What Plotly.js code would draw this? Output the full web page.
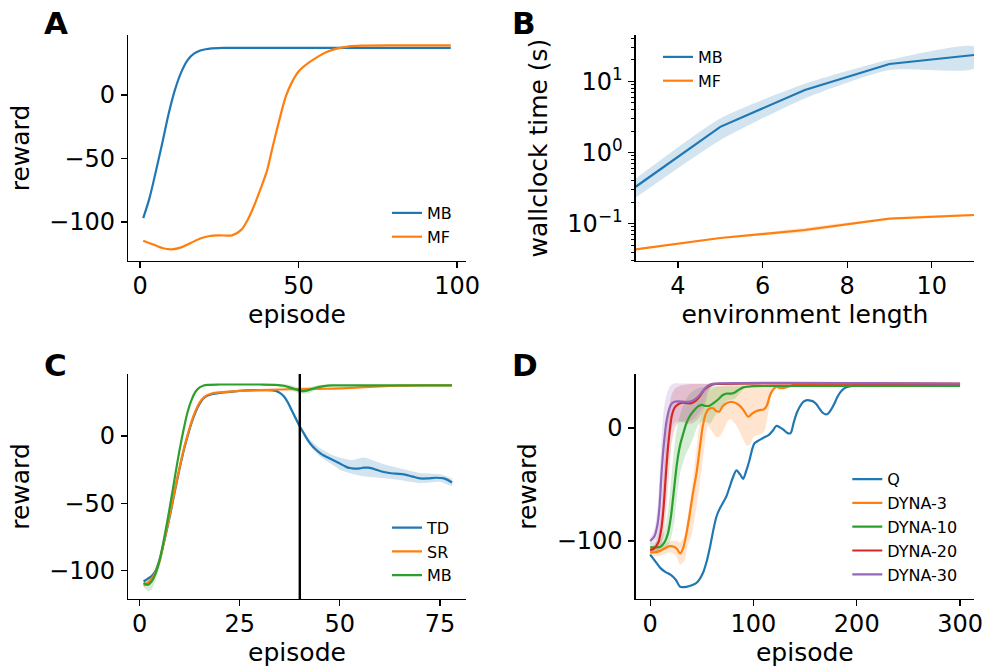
<!DOCTYPE html>
<html><head><meta charset="utf-8">
<script src="https://cdn.plot.ly/plotly-3.0.1.min.js"></script>
<style>html,body{margin:0;padding:0;background:#fff}#chart{width:987px;height:668px}</style>
</head><body><div id="chart"></div>
<script>
// ---------- Panel A ----------
const aMbEp = [1,3,5,7,9,11,13,15,17,19,22,26,40,60,80,98];
const aMbReward = [-97,-81,-60,-38,-15,4,18,27.5,32.5,35,36.5,37,37,37,37,37];
const aMfEp = [1,4,7,10,13,16,19,22,25,29,32,34,36,38,40,42,44,46,48,50,53,56,59,62,66,70,80,98];
const aMfReward = [-114.7,-117.5,-120.5,-121.5,-120,-116.5,-113,-111,-110.5,-110.5,-106,-98,-87,-74,-60,-39,-19,-1,10.5,18.5,25,30,34,36.5,38.3,38.8,39,39];

// ---------- Panel B ----------
const bLength = [3,5,7,9,11];
const bMbTime = [0.33,2.29,7.55,17.5,23.4];
const bMbLo = [0.233,1.49,5.75,14.4,15.1];
const bMbHi = [0.43,3.0,9.2,20,30.6];
const bMfTime = [0.0437,0.063,0.0816,0.1175,0.1324];
const bMfLo = [0.0425,0.0615,0.0765,0.1150,0.1300];
const bMfHi = [0.0450,0.0645,0.0880,0.1200,0.1350];
const bTickVals = [0.1,1,10];
const bTickText = ['10<sup>\u22121</sup>','10<sup>0</sup>','10<sup>1</sup>'];
const bMinorVals = [0.03,0.04,0.05,0.06,0.07,0.08,0.09,0.2,0.3,0.4,0.5,0.6,0.7,0.8,0.9,2,3,4,5,6,7,8,9,20,30,40];

// ---------- Panel C ----------
const cTdEp = [1,2,3,4,5,6,7,8,9,10,11,12,13,14,15,16,17,18,20,22,25,28,31,34,35,36,37,38,39,40,41,42,43,44,45,46,47,48,49,50,51,52,53,54,55,56,57,58,59,60,62,64,66,68,70,72,74,76,78];
const cTdReward = [-108,-106,-104,-100,-92,-80,-67,-53,-38,-24,-11,0,10,18,24,28,30,31,32,32.5,33.5,34,34,33.5,32,29.5,25,19,13,7,2,-3,-7,-10,-12.5,-14.5,-16,-17.5,-19,-20.5,-22,-23.5,-24,-24.2,-24,-23.5,-23.5,-24,-25,-26,-27.3,-28,-28.5,-30,-31.5,-31.5,-31,-31.5,-34.5];
const cTdBandEp = [36,38,40,42,45,48,50,53,56,60,65,70,75,78];
const cTdBandHi = [31,21,9,-1,-9,-14,-16,-18,-16,-20,-24,-27.5,-28.5,-32];
const cTdBandLo = [28.5,17,5,-5,-15,-21,-25,-28,-30,-31,-32.7,-35,-34,-37];
const cSrEp = [1,2,3,4,5,6,7,8,9,10,11,12,13,14,15,16,17,18,20,25,30,35,40,45,50,55,60,65,70,78];
const cSrReward = [-111,-109,-106,-101,-93,-80,-66,-52,-37,-23,-10,1,11,19,25,28.5,30.5,31.5,32.3,33.5,34,34.5,34.8,35,35.3,36,36.8,37.3,37.5,37.6];
const cMbEp = [1,2,3,4,5,6,7,8,9,10,11,12,13,14,15,16,17,20,25,30,34,36,38,40,41,42,44,46,48,55,78];
const cMbReward = [-109,-110.5,-108,-102,-92,-78,-62,-45,-27,-10,5,18,27,33,36,37.5,38,38.2,38.2,38.2,38,37.3,35.5,33.7,33.3,33.8,35.8,37,37.5,37.6,37.6];
const cMbBandEpEarly = [1,2,3,4,5,6,7,8];
const cMbBandHiEarly = [-106,-106,-103,-97,-88,-74,-58,-40];
const cMbBandLoEarly = [-112,-115,-114,-107,-97,-83,-66,-50];
const cMbBandEpSwitch = [34,36,38,40,42,44,46,48];
const cMbBandHiSwitch = [38.5,38.5,37.5,36,36,37.5,38,38];
const cMbBandLoSwitch = [37.5,36,33.5,31.5,31.5,34,36,37];
const cSwitchEpisode = 40;

// ---------- Panel D ----------
const dQEp = [0,5,10,15,20,25,29,35,41,46,51,55,58,61,64,67,70,74,77,80,83.5,87,90,93,96,99,101,105,109,115,119,122,125,129,133,136,139,142,145,148,151,154,158,161,164,167,170,172,175,178,181,184,187,190,194,198,205,220,250,300];
const dQReward = [-112,-118,-124,-127.5,-130,-134.5,-140.5,-140.5,-139,-136,-128.5,-117,-105,-91,-79,-72,-67,-60,-52,-44,-37.5,-41,-45,-38,-29,-18,-13.5,-11,-9,-6,-2,1.8,1,-1.5,-4.5,-4.5,5,13.5,19,23,24.5,24.5,23.5,21,17,13.5,12,12.5,16,21,27,31.5,34.5,36,37,37.5,37.8,37.8,37.8,37.8];

const dD3Ep = [0,5,10,15,19,23,26,29,32,35,38,41,45,48,51,54,57,61,64,67,70,74,77,80,84,88,91,95,99,103,106,110,113,116,119,122,126,130,135,140,150,300];
const dD3Reward = [-110,-110,-108.5,-106,-104.5,-105,-107,-111,-106,-94,-78,-60,-39,-18,2,13,17,17.5,15,14.5,19,22,23,23,21.5,18.5,15,10,13,15,15.8,16.5,20,29,34,36.5,35.5,35.5,37,38.5,39,39];
const dD3BandEp = [0,10,20,25,29,33,36,40,44,48,52,56,60,64,67,71,75,78,82,86,90,94,97,100,104,108,111,114,117,120,125,135,300];
const dD3BandHi = [-106,-105,-100,-100,-101,-96,-80,-55,-25,5,22,30,35,36.5,37,37.5,38,38,38,38,38,38,38,38,38,38,38,38.5,39,39,39,39.5,39.5];
const dD3BandLo = [-114,-113,-110,-113,-121,-118,-105,-95,-75,-50,-20,2,-3,-8,-8,-2,6,8,4,-2,-10,-16,-14,-8,-6,-5,-2,12,28,34,34,36,38.5];

const dD10Ep = [0,5,10,14,17,20,23,26,29,32,35,38,42,46,50,54,58,62,66,70,74,78,82,86,90,95,100,110,300];
const dD10Reward = [-105.6,-105.6,-105,-101,-94,-79,-55,-31,-15,-5,4,10,15,19,20.5,19.5,20,22.5,25.5,29,30.5,30.5,31.5,34,36,36.7,37,37.2,37.2];
const dD10BandHi = [-102,-101,-98,-90,-75,-50,-20,0,12,20,26,30,33,35,36,36.5,37,37,37,37,37,37,37,37,37,37,37.2,37.3,37.3];
const dD10BandLo = [-109,-109,-109,-108,-105,-98,-85,-60,-40,-30,-22,-17,-8,2,6,5,4,10,15,20,24,25,26,30,34,36,36.8,37.1,37.1];

const dD20Ep = [0,4,8,11,13,15,17,19,21,24,28,32,36,40,44,48,52,56,60,65,300];
const dD20Reward = [-108,-106.5,-101,-88,-70,-44,-20,-2,11,18.5,21.5,22.5,22,22,24,28,33.5,36.5,38.3,39,39];
const dD20BandHi = [-105,-103,-93,-70,-40,-10,10,22,30,35,37,38,38.5,39,39,39,39,39,39,39.2,39.2];
const dD20BandLo = [-111,-110,-108,-103,-95,-78,-55,-30,-12,0,5,5,4,4,6,10,18,30,37,38.8,38.8];

const dD30Ep = [0,4,7,9,11,13,16,20,23,27,32,37,42,46,50,54,58,62,300];
const dD30Reward = [-100,-96,-86,-70,-40,-17,7,20.5,23,23.6,23.3,23.2,24.6,27.5,31.5,36,38.5,39.3,39.3];
const dD30BandHi = [-97,-90,-72,-45,-10,15,30,38,39.5,39.5,39.5,39.5,39.5,39.5,39.5,39.5,39.5,39.5,39.5];
const dD30BandLo = [-103,-101,-98,-92,-78,-55,-25,-2,4,6,6,6,8,12,18,28,37,39,39];

// ---------- styling ----------
const C_BLUE = '#1f77b4', C_ORANGE = '#ff7f0e', C_GREEN = '#2ca02c', C_RED = '#d62728', C_PURPLE = '#9467bd';
const FONT = 'DejaVu Sans';
function rgba(hex, a) {
  const n = parseInt(hex.slice(1), 16);
  return `rgba(${(n>>16)&255},${(n>>8)&255},${n&255},${a})`;
}
function band(x, lo, hi, xa, ya, color) {
  return {
    x: x.concat(x.slice().reverse()),
    y: hi.concat(lo.slice().reverse()),
    xaxis: xa, yaxis: ya, type: 'scatter', mode: 'lines',
    fill: 'toself', fillcolor: rgba(color, 0.2),
    line: {width: 0, shape: 'spline', smoothing: 0.6},
    hoverinfo: 'skip', showlegend: false
  };
}
function line(x, y, xa, ya, color, name, legend, shape) {
  return {
    x: x, y: y, xaxis: xa, yaxis: ya, type: 'scatter', mode: 'lines', name: name,
    legend: legend, line: {color: color, width: 2.2, shape: shape || 'spline', smoothing: 0.8}
  };
}

const traces = [
  // A
  line(aMbEp, aMbReward, 'x', 'y', C_BLUE, 'MB', 'legend'),
  line(aMfEp, aMfReward, 'x', 'y', C_ORANGE, 'MF', 'legend'),
  // B
  band(bLength, bMbLo, bMbHi, 'x2', 'y2', C_BLUE),
  band(bLength, bMfLo, bMfHi, 'x2', 'y2', C_ORANGE),
  line(bLength, bMbTime, 'x2', 'y2', C_BLUE, 'MB', 'legend2', 'linear'),
  line(bLength, bMfTime, 'x2', 'y2', C_ORANGE, 'MF', 'legend2', 'linear'),
  // C
  band(cTdBandEp, cTdBandLo, cTdBandHi, 'x3', 'y3', C_BLUE),
  band(cMbBandEpEarly, cMbBandLoEarly, cMbBandHiEarly, 'x3', 'y3', C_GREEN),
  band(cMbBandEpSwitch, cMbBandLoSwitch, cMbBandHiSwitch, 'x3', 'y3', C_GREEN),
  line(cTdEp, cTdReward, 'x3', 'y3', C_BLUE, 'TD', 'legend3'),
  line(cSrEp, cSrReward, 'x3', 'y3', C_ORANGE, 'SR', 'legend3'),
  line(cMbEp, cMbReward, 'x3', 'y3', C_GREEN, 'MB', 'legend3'),
  // D
  band(dD3BandEp, dD3BandLo, dD3BandHi, 'x4', 'y4', C_ORANGE),
  band(dD10Ep, dD10BandLo, dD10BandHi, 'x4', 'y4', C_GREEN),
  band(dD20Ep, dD20BandLo, dD20BandHi, 'x4', 'y4', C_RED),
  band(dD30Ep, dD30BandLo, dD30BandHi, 'x4', 'y4', C_PURPLE),
  line(dQEp, dQReward, 'x4', 'y4', C_BLUE, 'Q', 'legend4'),
  line(dD3Ep, dD3Reward, 'x4', 'y4', C_ORANGE, 'DYNA-3', 'legend4'),
  line(dD10Ep, dD10Reward, 'x4', 'y4', C_GREEN, 'DYNA-10', 'legend4'),
  line(dD20Ep, dD20Reward, 'x4', 'y4', C_RED, 'DYNA-20', 'legend4'),
  line(dD30Ep, dD30Reward, 'x4', 'y4', C_PURPLE, 'DYNA-30', 'legend4')
];

const W = 987, H = 668;
function px(v) { return v / W; }
function py(v) { return 1 - v / H; }

const axBase = {
  showline: true, linecolor: '#000', linewidth: 1.25, mirror: false,
  ticks: 'outside', ticklen: 6, tickwidth: 1.25, tickcolor: '#000',
  showgrid: false, zeroline: false, automargin: false,
  tickfont: {family: FONT, size: 24, color: '#000'}
};
function ax(extra) { return Object.assign({}, axBase, extra); }
const titleFont = {family: FONT, size: 25, color: '#000'};
const legFont = {family: FONT, size: 16, color: '#000'};
function leg(x, y) {
  return {x: x, y: y, xanchor: 'left', yanchor: 'top', bgcolor: 'rgba(0,0,0,0)', borderwidth: 0, font: legFont, tracegroupgap: 0};
}
function letter(t, x, y) {
  return {text: '<b>' + t + '</b>', xref: 'paper', yref: 'paper', x: px(x), y: py(y), xanchor: 'left', yanchor: 'top',
    showarrow: false, font: {family: FONT, size: 31, color: '#000'}};
}
const xTitle = (t) => ({text: t, font: titleFont, standoff: 6});
const yTitle = (t) => ({text: t, font: titleFont, standoff: 12});

const layout = {
  width: W, height: H,
  margin: {l: 0, r: 0, t: 0, b: 0},
  paper_bgcolor: '#fff', plot_bgcolor: 'rgba(0,0,0,0)',
  font: {family: FONT, color: '#000'},
  xaxis: ax({domain: [px(128), px(466)], range: [-3.8, 102.8], dtick: 50, tick0: 0, anchor: 'y',
    ticklabelstandoff: -3, title: xTitle('episode')}),
  yaxis: ax({domain: [py(261), py(35)], range: [-130.7, 47.2], dtick: 50, tick0: 0, anchor: 'x',
    ticklabelstandoff: 1, title: yTitle('reward')}),
  xaxis2: ax({domain: [px(635.7), px(974)], range: [3, 11], dtick: 2, tick0: 0, anchor: 'y2',
    ticklabelstandoff: -3, title: xTitle('environment length')}),
  yaxis2: ax({domain: [py(261), py(35)], type: 'log', range: [-1.524, 1.65], anchor: 'x2',
    tickmode: 'array', tickvals: bTickVals, ticktext: bTickText, ticklabelstandoff: 1,
    minor: {tickmode: 'array', tickvals: bMinorVals, ticks: 'outside', ticklen: 3.5, tickwidth: 1, tickcolor: '#000', showgrid: false},
    title: {text: 'wallclock time (s)', font: titleFont, standoff: 12}}),
  xaxis3: ax({domain: [px(128), px(466)], range: [-2.9, 81.5], dtick: 25, tick0: 0, anchor: 'y3',
    ticklabelstandoff: -3, title: xTitle('episode')}),
  yaxis3: ax({domain: [py(599), py(374)], range: [-121, 46], dtick: 50, tick0: 0, anchor: 'x3',
    ticklabelstandoff: 1, title: yTitle('reward')}),
  xaxis4: ax({domain: [px(635.7), px(974)], range: [-14, 313.5], dtick: 100, tick0: 0, anchor: 'y4',
    ticklabelstandoff: -3, title: xTitle('episode')}),
  yaxis4: ax({domain: [py(599), py(374)], range: [-151.3, 47.8], dtick: 100, tick0: 0, anchor: 'x4',
    ticklabelstandoff: 1, title: {text: 'reward', font: titleFont, standoff: 13}}),
  legend: leg(px(387), py(196)),
  legend2: leg(px(658), py(40)),
  legend3: leg(px(387), py(510.7)),
  legend4: leg(px(847.3), py(462.2)),
  shapes: [{type: 'line', xref: 'x3', yref: 'y3 domain', x0: cSwitchEpisode, x1: cSwitchEpisode, y0: 0, y1: 1,
    line: {color: '#000', width: 2.4}}],
  annotations: [letter('A', 42, 3), letter('B', 509.5, 3), letter('C', 42, 345), letter('D', 509.5, 345)],
  showlegend: true
};

Plotly.newPlot('chart', traces, layout, {staticPlot: true, displayModeBar: false});
</script></body></html>
